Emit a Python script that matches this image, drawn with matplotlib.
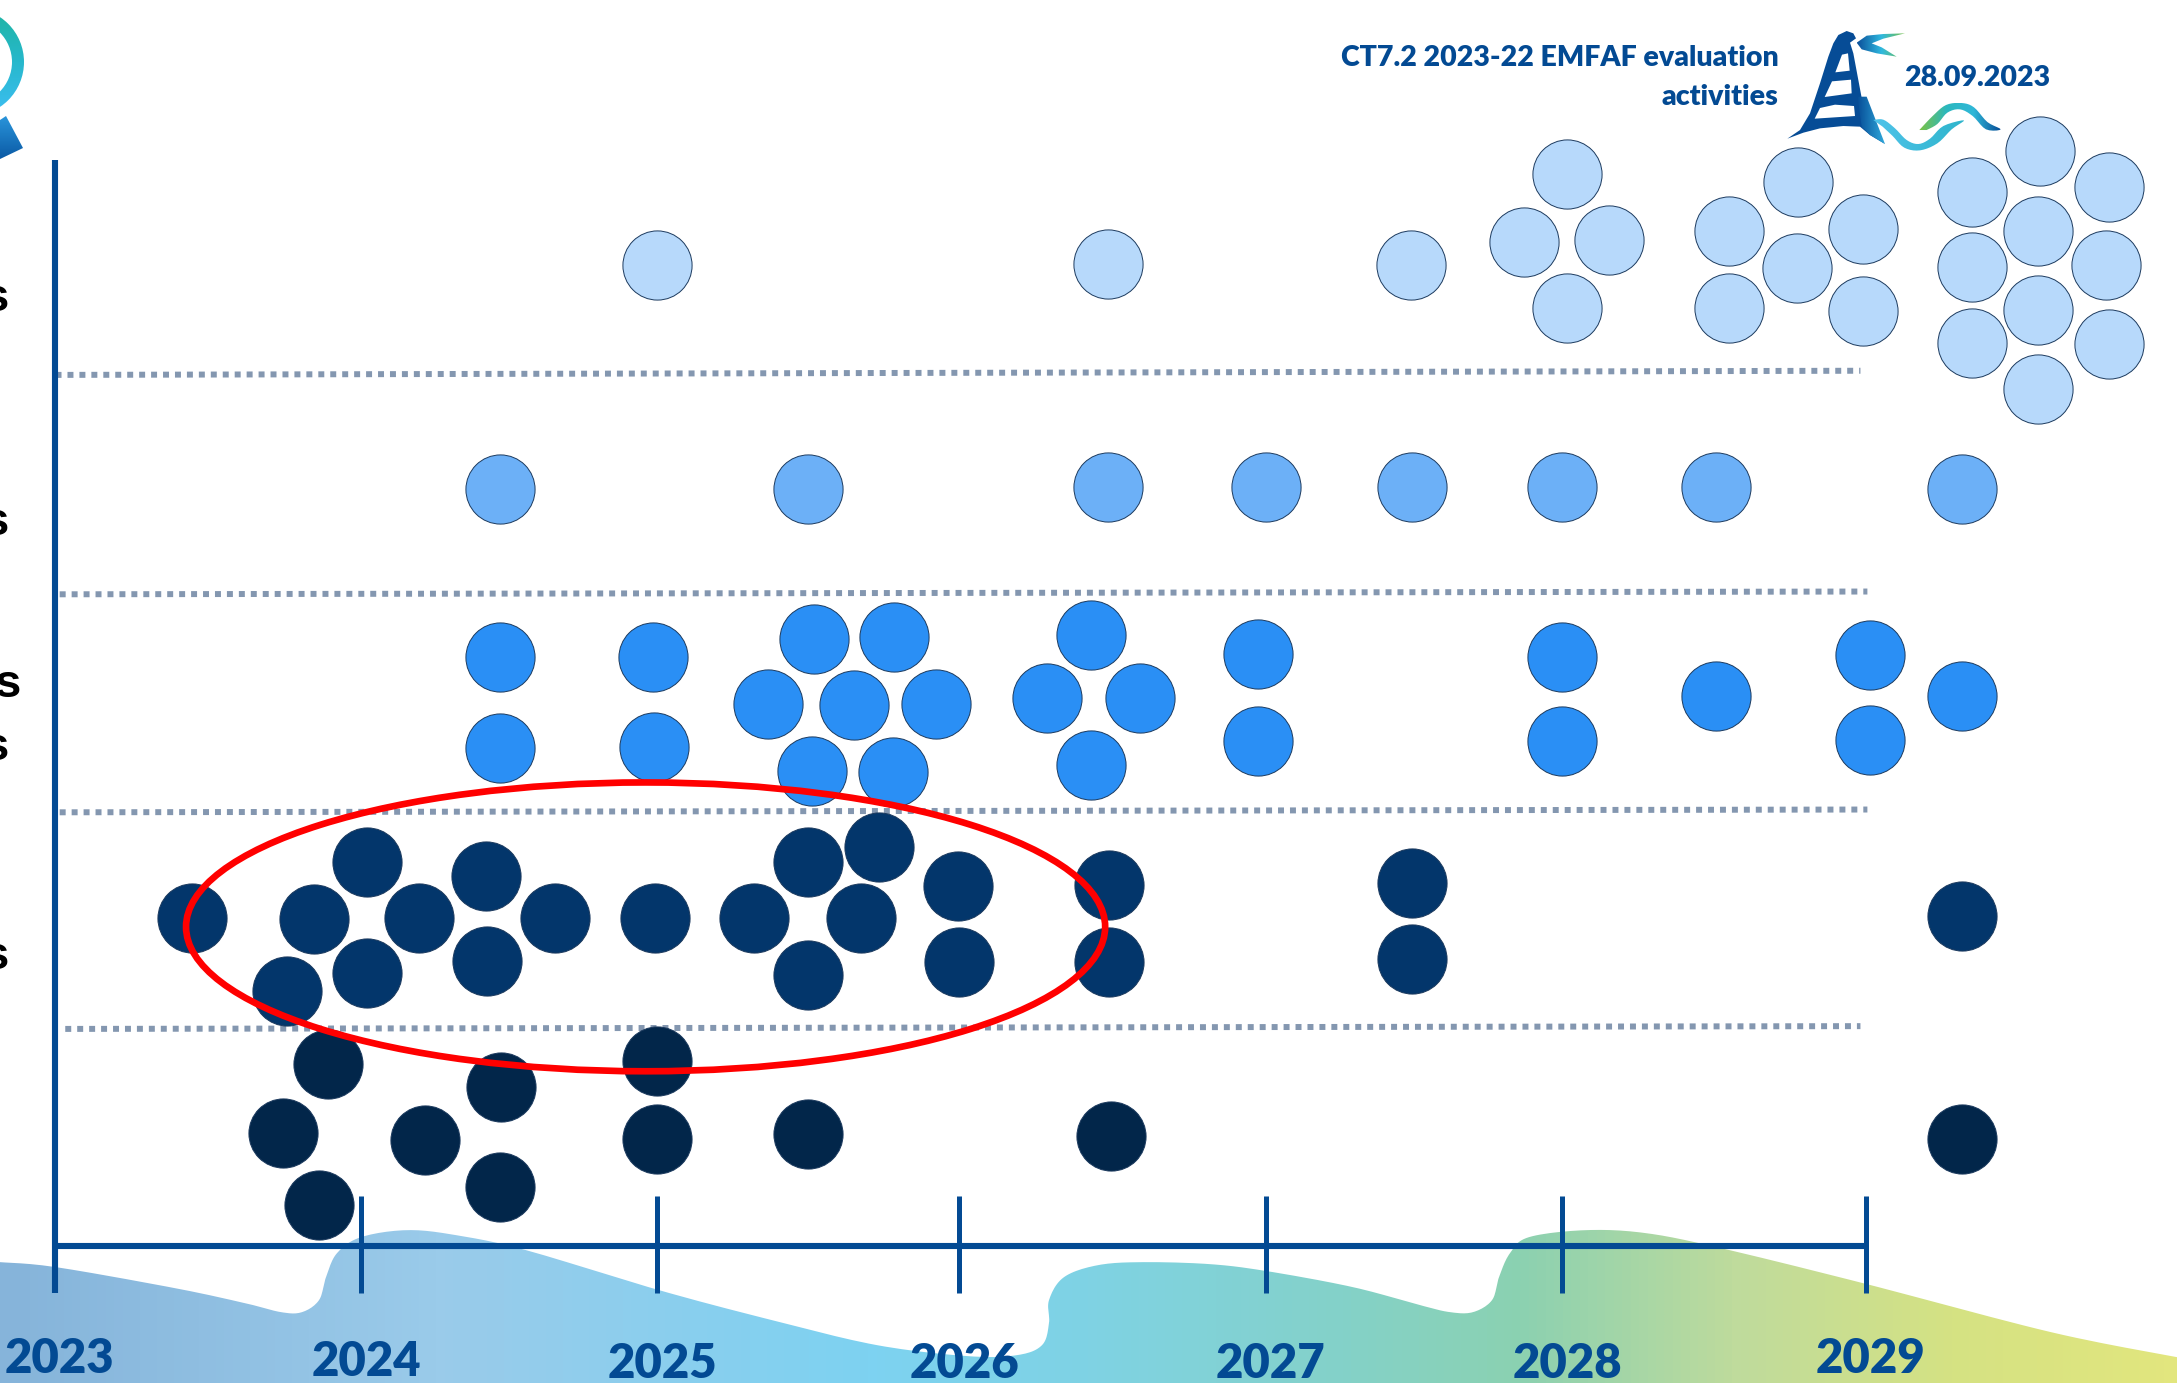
import numpy as np
import matplotlib
matplotlib.use("Agg")
import matplotlib.pyplot as plt
from matplotlib.path import Path
from matplotlib.patches import PathPatch, Ellipse, Wedge
from matplotlib.colors import LinearSegmentedColormap

S = 2177 / 1568  # reference pixels per chart unit

# ---------- data (chart units) ----------
row1_x = [473, 798, 1016, 1129, 1098, 1159, 1129, 1245, 1295, 1342, 1294, 1245, 1342, 1469, 1420, 1519, 1468, 1420, 1517, 1468, 1420, 1519, 1468]
row1_y = [191, 190, 191, 125, 174, 173, 222, 166, 131, 165, 193, 222, 224, 109, 138, 135, 166, 192, 191, 223, 247, 248, 280]
row2_x = [360, 582, 798, 912, 1017, 1125, 1236, 1413]
row2_y = [352, 352, 351, 351, 351, 351, 351, 352]
row3_x = [360, 360, 470, 471, 586, 644, 553, 615, 674, 585, 643, 786, 754, 821, 786, 906, 906, 1125, 1125, 1236, 1347, 1347, 1413]
row3_y = [473, 539, 473, 538, 460, 459, 507, 508, 507, 555, 556, 457, 503, 503, 551, 471, 534, 473, 534, 501, 472, 533, 501]
row4_x = [138, 264, 226, 302, 264, 207, 350, 351, 400, 472, 543, 582, 633, 620, 582, 690, 691, 799, 799, 1017, 1017, 1413]
row4_y = [661, 621, 662, 661, 701, 714, 631, 692, 661, 661, 661, 621, 610, 661, 702, 638, 693, 637, 693, 636, 691, 660]
row5_x = [236, 204, 230, 306, 361, 360, 473, 473, 582, 800, 1413]
row5_y = [766, 816, 868, 821, 783, 855, 764, 820, 817, 818, 820]
row_colors = ["#B7D9FB", "#6CB0F7", "#2A8FF5", "#03366B", "#02264A"]

year_labels = ["2023", "2024", "2025", "2026", "2027", "2028", "2029"]
year_ticks = [40, 260, 473, 691, 912, 1125, 1344]
year_label_x = [43, 264, 477, 695, 915, 1129, 1347]
year_label_y = [979, 981, 982, 982, 982, 982, 979]

sep_x0 = [40, 43, 43, 47]
sep_x1 = [1340, 1345, 1345, 1340]
sep_y0 = [270, 428, 585, 741]
sep_y1 = [267, 426, 583, 739]

cut_label_x = [6, 6, 15, 6, 6]
cut_label_y = [215, 377, 493, 539, 689]
cut_labels = ["s", "s", "s", "s", "s"]

NAVY = "#034A93"

# background wave outline, reference pixels
wave_x = [0, 56, 175, 245, 281, 302, 319, 326, 337, 361, 407, 456, 526, 659, 772, 877, 968, 1017, 1042, 1049, 1049, 1064, 1098, 1143, 1210, 1267, 1353, 1420, 1450, 1473, 1492, 1499, 1510, 1529, 1586, 1646, 1721, 1863, 2051, 2177]
wave_y = [1262, 1267, 1288, 1303, 1312, 1312, 1300, 1277, 1253, 1237, 1230, 1235, 1250, 1290, 1320, 1345, 1356, 1355, 1345, 1323, 1300, 1277, 1265, 1262, 1264, 1271, 1287, 1305, 1312, 1312, 1300, 1277, 1253, 1237, 1230, 1233, 1248, 1283, 1332, 1357]
wave_stops = [(0.0, "#86B4DA"), (0.2, "#9ACBEA"), (0.40, "#7DD2F1"), (0.50, "#7FD3E4"), (0.62, "#84D1C8"), (0.70, "#8BD1B1"), (0.80, "#BFDB9C"), (0.90, "#D5E283"), (1.0, "#E2E67E")]


def smooth(pts, n=12):
    """Catmull-Rom through an open list of outline points."""
    p = np.asarray(pts, float)
    p = np.vstack([p[0], p, p[-1]])
    out = []
    t = np.linspace(0, 1, n, endpoint=False)[:, None]
    for i in range(1, len(p) - 2):
        a, b, c, d = p[i - 1], p[i], p[i + 1], p[i + 2]
        out.append(0.5 * (2 * b + (c - a) * t + (2 * a - 5 * b + 4 * c - d) * t ** 2 + (3 * b - a - 3 * c + d) * t ** 3))
    out.append(p[-2][None, :])
    return np.vstack(out)


fig = plt.figure(figsize=(21.77, 13.83), dpi=100)
ax = fig.add_axes([0, 0, 1, 1])
ax.set_xlim(0, 1568)
ax.set_ylim(996, 0)
ax.axis("off")


def gradient_fill(pts, stops, z=1, vertical=False):
    pts = np.asarray(pts, float)
    x0, x1 = pts[:, 0].min(), pts[:, 0].max()
    y0, y1 = pts[:, 1].min(), pts[:, 1].max()
    cmap = LinearSegmentedColormap.from_list("g", stops)
    g = np.linspace(0, 1, 256)
    g = g[:, None] if vertical else g[None, :]
    im = ax.imshow(g, extent=[x0, x1, y1, y0], cmap=cmap, vmin=0, vmax=1,
                   aspect="auto", zorder=z, interpolation="bilinear", origin="upper")
    patch = PathPatch(Path(np.vstack([pts, pts[0]])), transform=ax.transData, fc="none", ec="none")
    ax.add_patch(patch)
    im.set_clip_path(patch)


# ---------- background wave ----------
wave_pts = smooth(np.c_[wave_x, wave_y] / S)
wave_poly = np.vstack([wave_pts, [1568, 996], [0, 996]])
gradient_fill(wave_poly, wave_stops, z=1)

# ---------- separators ----------
for a, b, c, d in zip(sep_x0, sep_x1, sep_y0, sep_y1):
    ax.plot([a, b], [c, d], color="#8497B0", lw=4.3, ls=(0, (1, 1)), dash_capstyle="butt", zorder=2)

# ---------- points ----------
rows = [(row1_x, row1_y), (row2_x, row2_y), (row3_x, row3_y), (row4_x, row4_y), (row5_x, row5_y)]
for (x, y), c in zip(rows, row_colors):
    ax.scatter(x, y, s=2480, color=c, edgecolors="#1C3A5E", linewidths=0.7, zorder=3)

# ---------- time axis ----------
ax.plot([39.5, 39.5], [115, 931], color=NAVY, lw=4.4, solid_capstyle="butt", zorder=4)
ax.plot([40, 1344], [897, 897], color=NAVY, lw=4.4, solid_capstyle="butt", zorder=4)
for t in year_ticks[1:]:
    ax.plot([t, t], [861, 931], color=NAVY, lw=3.6, solid_capstyle="butt", zorder=4)
for lab, x, y in zip(year_labels, year_label_x, year_label_y):
    ax.text(x, y, lab, color=NAVY, fontsize=34, fontweight="heavy", family="Lato", ha="center", va="center", zorder=5)

# ---------- highlight ----------
ax.add_patch(Ellipse((465, 667.5), 662, 208, angle=0, fc="none", ec="#FF0000", lw=4.8, zorder=6))

# ---------- clipped row labels ----------
for x, y, lab in zip(cut_label_x, cut_label_y, cut_labels):
    ax.text(x, y, lab, color="black", fontsize=34, fontweight="bold",
            family="Liberation Sans", ha="right", va="center", zorder=5)

# ---------- header text ----------
ax.text(1281, 42, "CT7.2 2023-22 EMFAF evaluation", color=NAVY, fontsize=20.5, fontweight="heavy", family="Lato", ha="right", va="center")
ax.text(1281, 70, "activities", color=NAVY, fontsize=20.5, fontweight="heavy", family="Lato", ha="right", va="center")
ax.text(1424, 56, "28.09.2023", color=NAVY, fontsize=20.5, fontweight="heavy", family="Lato", ha="center", va="center")


# ---------- logo, outlined from the zoomed crop ----------
def logo(pts):
    p = np.asarray(pts, float)
    return np.c_[1770 + p[:, 0] / 3, 20 + p[:, 1] / 3] / S


tower = [(52, 356), (90, 330), (120, 280), (150, 190), (175, 110), (190, 70), (205, 45), (230, 33), (250, 40), (258, 55), (240, 68),
         (250, 100), (265, 180), (280, 260), (290, 310), (310, 335), (345, 372), (300, 345), (270, 320), (220, 318), (150, 325), (100, 338), (52, 356)]
ax.fill(*logo(tower).T, color="#064C96", lw=0, zorder=7)
for win in ([(216, 104), (234, 100), (239, 152), (196, 157)],
            [(186, 184), (243, 179), (245, 220), (164, 231)],
            [(150, 264), (195, 254), (252, 258), (255, 288), (134, 296)]):
    ax.fill(*logo(win).T, color="white", lw=0, zorder=8)
gradient_fill(logo([(262, 230), (290, 230), (345, 372), (300, 345), (275, 320)]), ["#064C96", "#2FA9DC"], z=7)

bird = [(405, 40), (340, 42), (290, 47), (260, 68), (275, 88), (320, 100), (380, 110), (335, 82), (305, 70), (340, 56)]
gradient_fill(logo(bird), ["#0B4F9A", "#2FB8DF", "#7CC242"], z=7)

wave_a = [(310, 300), (340, 299), (375, 325), (410, 360), (445, 372), (480, 356), (520, 318), (582, 301),
          (545, 328), (502, 370), (450, 391), (403, 383), (368, 348), (338, 320)]
gradient_fill(logo(smooth(wave_a, 5)), ["#4FC3EA", "#2FB5CC"], z=7)
wave_b = [(448, 330), (488, 288), (528, 255), (575, 249), (612, 262), (652, 306), (692, 328),
          (648, 328), (608, 288), (570, 268), (532, 278), (502, 312), (470, 330)]
gradient_fill(logo(smooth(wave_b, 5)), ["#7CC242", "#2BB8BE", "#30B7D8", "#064C96"], z=7)

# ---------- other logo, clipped at the left edge ----------
ring = Wedge((-30 / S, 62 / S), 54 / S, -90, 90, width=12 / S, fc="none", ec="none")
ax.add_patch(ring)
g = np.linspace(0, 1, 256)[:, None]
im = ax.imshow(g, extent=[0, 20, 80, 10], cmap=LinearSegmentedColormap.from_list("r", ["#1FB5A5", "#27B8CC", "#3CBEF0"]),
               aspect="auto", zorder=7, origin="upper")
im.set_clip_path(ring)
gradient_fill(np.array([(6, 116), (23, 148), (0, 159), (0, 120)]) / S, ["#2A96DC", "#0B5AA5"], z=7, vertical=True)

ax.set_xlim(0, 1568)
ax.set_ylim(996, 0)
fig.savefig("out.png", dpi=100, facecolor="white")
